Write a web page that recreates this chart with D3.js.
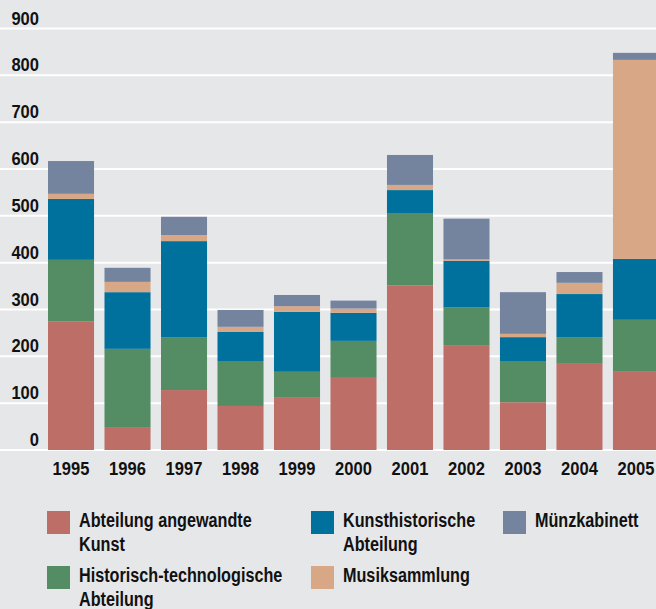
<!DOCTYPE html>
<html>
<head>
<meta charset="utf-8">
<script src="https://cdn.jsdelivr.net/npm/d3@7"></script>
<style>
	body { margin: 0; background: #e6e7e9; }
	svg { display: block; }
	text { font-family: "Liberation Sans", Arial, sans-serif; font-weight: bold; fill: #111; }
</style>
</head>
<body>
<svg width="656" height="609"></svg>
<script>
// years on the x axis
var years = ["1995", "1996", "1997", "1998", "1999", "2000", "2001", "2002", "2003", "2004", "2005"];

// values per collection, stacked bottom to top
var angewandteKunst = [275, 49, 128, 94, 113, 154, 351, 224, 102, 184, 167];
var historischTechn = [131, 167, 113, 96, 54, 79, 155, 81, 88, 57, 111];
var kunsthistorisch = [130, 121, 205, 62, 128, 60, 49, 99, 51, 92, 130];
var musiksammlung = [11, 22, 13, 11, 12, 9, 11, 3, 7, 24, 425];
var muenzkabinett = [70, 30, 39, 36, 24, 17, 64, 87, 89, 23, 15];

var yTicks = [0, 100, 200, 300, 400, 500, 600, 700, 800, 900];

var seriesNames = ["Abteilung angewandte Kunst", "Historisch-technologische Abteilung",
	"Kunsthistorische Abteilung", "Musiksammlung", "Münzkabinett"];
var seriesValues = [angewandteKunst, historischTechn, kunsthistorisch, musiksammlung, muenzkabinett];
var colors = ["#bd6e67", "#548d63", "#00719d", "#d8a886", "#74849f"];

var svg = d3.select("svg");

// rows for d3.stack
var keys = d3.range(seriesNames.length);
var table = years.map(function(yr, i) {
	var row = { year: yr };
	keys.forEach(function(k) { row[k] = seriesValues[k][i]; });
	return row;
});
var stacked = d3.stack().keys(keys)(table);

var x = d3.scaleBand()
	.domain(years)
	.range([48, 659])
	.paddingInner(0.185)
	.paddingOuter(0);

var y = d3.scaleLinear()
	.domain([0, 900])
	.range([450, 28.5]);

// grid lines + tick labels
var grid = svg.append("g");
grid.selectAll("line")
	.data(yTicks)
	.enter().append("line")
	.attr("x1", 0)
	.attr("x2", 656)
	.attr("y1", function(d) { return y(d); })
	.attr("y2", function(d) { return y(d); })
	.attr("stroke", "#fff")
	.attr("stroke-width", 2);

grid.selectAll("g.tick")
	.data(yTicks)
	.enter().append("g")
	.attr("class", "tick")
	.attr("transform", function(d) { return "translate(39," + (y(d) - 4) + ") scale(0.92,1)"; })
	.append("text")
	.attr("text-anchor", "end")
	.style("font-size", "18px")
	.text(function(d) { return d; });

// bars
var layers = svg.append("g")
	.selectAll("g")
	.data(stacked)
	.enter().append("g")
	.attr("fill", function(d) { return colors[d.key]; });

layers.selectAll("rect")
	.data(function(d) { return d; })
	.enter().append("rect")
	.attr("x", function(d) { return x(d.data.year); })
	.attr("width", x.bandwidth())
	.attr("y", function(d) { return y(d[1]); })
	.attr("height", function(d) { return y(d[0]) - y(d[1]); });

// year labels
svg.append("g")
	.selectAll("g")
	.data(years)
	.enter().append("g")
	.attr("transform", function(d) { return "translate(" + (x(d) + x.bandwidth() / 2) + ",475) scale(0.92,1)"; })
	.append("text")
	.attr("text-anchor", "middle")
	.style("font-size", "18px")
	.text(function(d) { return d; });

// legend
var legendItems = [
	{ idx: 0, lines: ["Abteilung angewandte", "Kunst"], col: 0, row: 0 },
	{ idx: 2, lines: ["Kunsthistorische", "Abteilung"], col: 1, row: 0 },
	{ idx: 4, lines: ["Münzkabinett"], col: 2, row: 0 },
	{ idx: 1, lines: ["Historisch-technologische", "Abteilung"], col: 0, row: 1 },
	{ idx: 3, lines: ["Musiksammlung"], col: 1, row: 1 }
];
var colX = [47, 311, 503];
var rowY = [511, 566];

var legend = svg.append("g").attr("class", "legend")
	.selectAll("g")
	.data(legendItems)
	.enter().append("g")
	.attr("transform", function(d) { return "translate(" + colX[d.col] + "," + rowY[d.row] + ")"; });

legend.append("rect")
	.attr("width", 23)
	.attr("height", 23)
	.attr("fill", function(d) { return colors[d.idx]; });

// no condensed font available, so squeeze the text horizontally
legend.append("g")
	.attr("transform", "translate(32,0) scale(0.81,1)")
	.append("text")
	.style("font-size", "20px")
	.selectAll("tspan")
	.data(function(d) { return d.lines; })
	.enter().append("tspan")
	.attr("x", 0)
	.attr("y", function(d, i) { return 16 + i * 24; })
	.text(function(d) { return d; });
</script>
</body>
</html>
